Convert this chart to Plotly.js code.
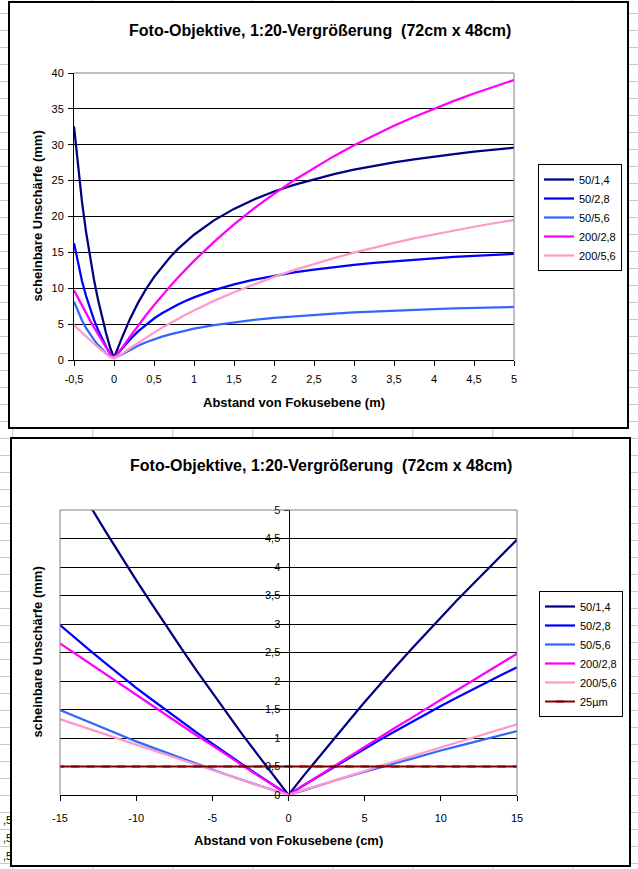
<!DOCTYPE html>
<html><head><meta charset="utf-8">
<script src="https://cdn.plot.ly/plotly-3.0.1.min.js"></script>
<style>html,body{margin:0;padding:0;background:#fff}#chart{width:638px;height:869px}</style>
</head><body><div id="chart"></div><script>
// ---------- data: top chart (distance in m) ----------
const xTop = [-0.5,-0.45,-0.4,-0.35,-0.3,-0.25,-0.2,-0.15,-0.1,-0.05,0,0.1,0.2,0.3,0.4,0.5,0.6,0.7,0.8,0.9,1,1.25,1.5,1.75,2,2.25,2.5,2.75,3,3.25,3.5,3.75,4,4.25,4.5,4.75,5];
const top50_14 = [32.55,26.85,22.03,17.90,14.32,11.19,8.42,5.97,3.77,1.79,0.3,3.11,5.73,7.96,9.88,11.55,13.02,14.32,15.48,16.52,17.46,19.46,21.06,22.38,23.48,24.41,25.21,25.91,26.52,27.06,27.54,27.97,28.36,28.71,29.03,29.32,29.59];
const top50_28 = [16.28,13.43,11.02,8.95,7.16,5.60,4.21,2.99,1.89,0.90,0.3,1.56,2.87,3.98,4.94,5.78,6.51,7.16,7.74,8.26,8.73,9.73,10.53,11.19,11.74,12.21,12.61,12.96,13.26,13.53,13.77,13.99,14.18,14.36,14.52,14.66,14.80];
const top50_56 = [8.14,6.71,5.51,4.48,3.58,2.80,2.11,1.49,0.94,0.45,0.3,0.78,1.43,1.99,2.47,2.89,3.26,3.58,3.87,4.13,4.37,4.87,5.27,5.60,5.87,6.10,6.30,6.48,6.63,6.77,6.89,6.99,7.09,7.18,7.26,7.33,7.40];
const top200_28 = [9.70,8.62,7.56,6.53,5.52,4.54,3.59,2.66,1.75,0.87,0.3,1.67,3.26,4.79,6.24,7.64,8.98,10.26,11.49,12.67,13.81,16.47,18.89,21.12,23.16,25.05,26.79,28.41,29.92,31.32,32.64,33.87,35.02,36.11,37.14,38.11,39.02];
const top200_56 = [4.85,4.31,3.78,3.26,2.76,2.27,1.80,1.33,0.88,0.43,0.3,0.83,1.63,2.40,3.12,3.82,4.49,5.13,5.75,6.34,6.90,8.24,9.45,10.56,11.58,12.52,13.40,14.20,14.96,15.66,16.32,16.94,17.51,18.06,18.57,19.06,19.51];
const topXTicks = [-0.5,0,0.5,1,1.5,2,2.5,3,3.5,4,4.5,5];
const topXLabels = ["-0,5","0","0,5","1","1,5","2","2,5","3","3,5","4","4,5","5"];

// ---------- data: bottom chart (distance in cm) ----------
const xBot = [-15,-14,-13,-12,-11,-10,-9,-8,-7,-6,-5,-4,-3,-2,-1,0,1,2,3,4,5,6,7,8,9,10,11,12,13,14,15];
const bot50_14 = [5.97,5.51,5.06,4.62,4.19,3.77,3.36,2.95,2.56,2.17,1.79,1.42,1.05,0.70,0.34,0,0.34,0.67,0.99,1.31,1.63,1.94,2.24,2.54,2.83,3.11,3.40,3.67,3.94,4.21,4.48];
const bot50_28 = [2.98,2.75,2.53,2.31,2.09,1.88,1.68,1.48,1.28,1.09,0.90,0.71,0.53,0.35,0.17,0,0.17,0.33,0.50,0.66,0.81,0.97,1.12,1.27,1.41,1.56,1.70,1.84,1.97,2.11,2.24];
const bot50_56 = [1.49,1.38,1.26,1.15,1.05,0.94,0.84,0.74,0.64,0.54,0.45,0.35,0.26,0.17,0.09,0,0.08,0.17,0.25,0.33,0.41,0.48,0.56,0.63,0.71,0.78,0.85,0.92,0.99,1.05,1.12];
const bot200_28 = [2.66,2.48,2.29,2.11,1.93,1.75,1.57,1.39,1.22,1.04,0.87,0.69,0.52,0.34,0.17,0,0.17,0.34,0.51,0.68,0.85,1.01,1.18,1.34,1.51,1.67,1.83,1.99,2.16,2.32,2.48];
const bot200_56 = [1.33,1.24,1.15,1.06,0.97,0.88,0.79,0.70,0.61,0.52,0.43,0.35,0.26,0.17,0.09,0,0.09,0.17,0.25,0.34,0.42,0.51,0.59,0.67,0.75,0.84,0.92,1.00,1.08,1.16,1.24];
const bot25um = [0.5,0.5,0.5,0.5,0.5,0.5,0.5,0.5,0.5,0.5,0.5,0.5,0.5,0.5,0.5,0.5,0.5,0.5,0.5,0.5,0.5,0.5,0.5,0.5,0.5,0.5,0.5,0.5,0.5,0.5,0.5];
const botXTicks = [-15,-10,-5,0,5,10,15];
const botXLabels = ["-15","-10","-5","0","5","10","15"];

const seriesNames = ["50/1,4","50/2,8","50/5,6","200/2,8","200/5,6","25µm"];
const seriesColors = ["#000080","#0000FF","#3366FF","#FF00FF","#FF99CC","#800000"];
const chartTitle = "Foto-Objektive, 1:20-Vergrößerung \u00a0(72cm x 48cm)";
const yTitle = "scheinbare Unschärfe (mm)";
const xTitleTop = "Abstand von Fokusebene (m)";
const xTitleBot = "Abstand von Fokusebene (cm)";

// ---------- helpers ----------
const W = 638, H = 869;
const px = v => v / W;
const py = v => 1 - v / H;
const REG = "'Liberation Sans', Arial, sans-serif";
const BOLD = "'Liberation Sans', Arial, sans-serif";
const FS = 11;

const topY = [top50_14, top50_28, top50_56, top200_28, top200_56];
const botY = [bot50_14, bot50_28, bot50_56, bot200_28, bot200_56];
const traces = [];
topY.forEach((ys, i) => traces.push({
  x: xTop, y: ys, xaxis: 'x', yaxis: 'y', type: 'scatter', mode: 'lines',
  name: seriesNames[i], legend: 'legend', legendgroup: 't' + i,
  line: {color: seriesColors[i], width: 2.25}, hoverinfo: 'skip'
}));
botY.forEach((ys, i) => traces.push({
  x: xBot, y: ys, xaxis: 'x2', yaxis: 'y2', type: 'scatter', mode: 'lines',
  name: seriesNames[i], legend: 'legend2', legendgroup: 'b' + i,
  line: {color: seriesColors[i], width: 2.25}, hoverinfo: 'skip'
}));
traces.push({
  x: xBot, y: bot25um, xaxis: 'x2', yaxis: 'y2', type: 'scatter', mode: 'lines+markers',
  name: seriesNames[5], legend: 'legend2', legendgroup: 'b5',
  line: {color: seriesColors[5], width: 2},
  marker: {symbol: 'line-ew', size: 6, color: seriesColors[5], line: {color: seriesColors[5], width: 2}},
  hoverinfo: 'skip'
});

// ---------- shapes ----------
const shapes = [];
const sheetGrid = '#c8c8c8';
for (let y = 13.5; y < H; y += 17) {
  shapes.push({type:'line', xref:'paper', yref:'paper', x0:0, x1:1, y0:py(y), y1:py(y), line:{color:sheetGrid, width:1}, layer:'below'});
}
for (let x = 12.7; x < W; x += 80) {
  shapes.push({type:'line', xref:'paper', yref:'paper', x0:px(x), x1:px(x), y0:0, y1:1, line:{color:sheetGrid, width:1}, layer:'below'});
}
// chart boxes
shapes.push({type:'rect', xref:'paper', yref:'paper', x0:px(9), x1:px(628), y0:py(428), y1:py(2), fillcolor:'#fff', line:{color:'#000', width:2}, layer:'below'});
shapes.push({type:'rect', xref:'paper', yref:'paper', x0:px(11), x1:px(630), y0:py(866), y1:py(438), fillcolor:'#fff', line:{color:'#000', width:2}, layer:'below'});
// plot area borders (gray)
const gray = '#808080';
shapes.push({type:'line', xref:'paper', yref:'paper', x0:px(74), x1:px(514), y0:py(73), y1:py(73), line:{color:gray, width:1}});
shapes.push({type:'line', xref:'paper', yref:'paper', x0:px(514), x1:px(514), y0:py(73), y1:py(360), line:{color:gray, width:1}});
shapes.push({type:'line', xref:'paper', yref:'paper', x0:px(60), x1:px(517), y0:py(510), y1:py(510), line:{color:gray, width:1}});
shapes.push({type:'line', xref:'paper', yref:'paper', x0:px(60), x1:px(60), y0:py(510), y1:py(795), line:{color:gray, width:1}});
shapes.push({type:'line', xref:'paper', yref:'paper', x0:px(517), x1:px(517), y0:py(510), y1:py(795), line:{color:gray, width:1}});

// ---------- annotations ----------
const ann = (text, x, y, size, bold, extra) => Object.assign({
  text: bold ? '<b>' + text + '</b>' : text, xref:'paper', yref:'paper', x:px(x), y:py(y),
  xanchor:'center', yanchor:'middle', showarrow:false,
  font:{family: bold ? BOLD : REG, size:size, color:'#000'}
}, extra || {});
const annotations = [
  ann(chartTitle, 320, 30, 16, true),
  ann(chartTitle, 321, 466, 16, true),
  ann(xTitleTop, 294, 402, 13, true),
  ann(xTitleBot, 288.5, 840, 13, true),
  ann(yTitle, 37, 216.5, 13, true, {textangle:-90}),
  ann(yTitle, 37, 652.5, 13, true, {textangle:-90}),
  ann(',5', 0.5, 820, 11, false, {xanchor:'left'}),
  ann(',5', 0.5, 838, 11, false, {xanchor:'left'}),
  ann(',5', 0.5, 856, 11, false, {xanchor:'left'})
];

const axisCommon = {
  ticks:'outside', ticklen:5, tickcolor:'#000', tickwidth:1,
  showline:true, linecolor:'#000', linewidth:1, zeroline:false, fixedrange:true,
  tickfont:{family:REG, size:FS, color:'#000'}
};
const legendCommon = {
  xanchor:'left', yanchor:'top', bordercolor:'#000', borderwidth:1, bgcolor:'#fff',
  font:{family:REG, size:FS, color:'#000'}, tracegroupgap:2, itemwidth:30, traceorder:'normal'
};

const layout = {
  width:W, height:H, margin:{l:0, r:0, t:0, b:0},
  paper_bgcolor:'#fff', plot_bgcolor:'rgba(0,0,0,0)',
  separators:', ',
  font:{family:REG, size:FS, color:'#000'},
  showlegend:true,
  xaxis: Object.assign({}, axisCommon, {domain:[px(74), px(514)], range:[-0.5,5], anchor:'y',
    tickmode:'array', tickvals:topXTicks, ticktext:topXLabels, showgrid:false, ticklabelstandoff:4}),
  yaxis: Object.assign({}, axisCommon, {domain:[py(360), py(73)], range:[0,40], anchor:'x',
    tick0:0, dtick:5, showgrid:true, gridcolor:'#000', gridwidth:1, ticklabelstandoff:2}),
  xaxis2: Object.assign({}, axisCommon, {domain:[px(60), px(517)], range:[-15,15], anchor:'y2',
    tickmode:'array', tickvals:botXTicks, ticktext:botXLabels, showgrid:false, ticklabelstandoff:8}),
  yaxis2: Object.assign({}, axisCommon, {domain:[py(795), py(510)], range:[0,5], anchor:'free',
    position:px(288.5), tick0:0, dtick:0.5, showgrid:true, gridcolor:'#000', gridwidth:1, ticklabelstandoff:1}),
  legend: Object.assign({}, legendCommon, {x:px(538), y:py(164)}),
  legend2: Object.assign({}, legendCommon, {x:px(539), y:py(591)}),
  shapes: shapes,
  annotations: annotations
};

Plotly.newPlot('chart', traces, layout, {displayModeBar:false, staticPlot:true});
</script></body></html>
